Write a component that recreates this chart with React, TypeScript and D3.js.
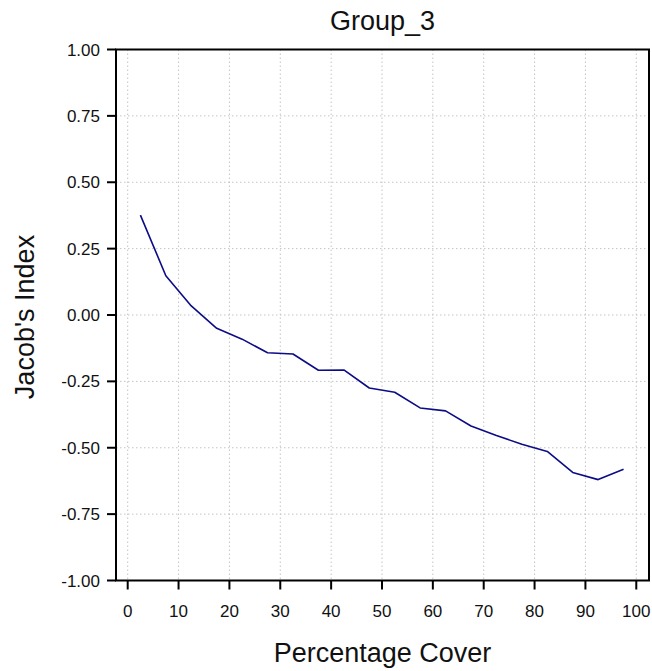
import React from "react";
import * as d3 from "d3";

const coverValues = [2.5, 7.5, 12.5, 17.5, 22.5, 27.5, 32.5, 37.5, 42.5, 47.5, 52.5, 57.5, 62.5, 67.5, 72.5, 77.5, 82.5, 87.5, 92.5, 97.5];
const jacobValues = [0.376, 0.148, 0.034, -0.05, -0.091, -0.142, -0.147, -0.208, -0.207, -0.275, -0.291, -0.35, -0.361, -0.418, -0.454, -0.487, -0.514, -0.593, -0.62, -0.581];
const xTicks = [0, 10, 20, 30, 40, 50, 60, 70, 80, 90, 100];
const yTicks = [1.0, 0.75, 0.5, 0.25, 0, -0.25, -0.5, -0.75, -1.0];
const title = "Group_3";
const xLabel = "Percentage Cover";
const yLabel = "Jacob's Index";

const W = 652;
const H = 671;
const left = 116;
const right = 649;
const top = 49.5;
const bottom = 580.5;
const font = "Liberation Sans, Arial, sans-serif";

export default function App() {
  const x = d3.scaleLinear().domain([-2.3, 102.5]).range([left, right]);
  const y = d3.scaleLinear().domain([-1, 1]).range([bottom, top]);
  const line = d3
    .line<number>()
    .x((_, i) => x(coverValues[i]))
    .y((d) => y(d));
  const path = line(jacobValues) || "";
  const tickLen = 9;
  const fmt = (t: number) => d3.format(".2f")(t).replace("\u2212", "-");
  return (
    <svg
      width={W}
      height={H}
      style={{ position: "absolute", left: 0, top: 0, background: "#fff" }}
      fontFamily={font}
    >
      <rect x={0} y={0} width={W} height={H} fill="#fff" />
      {xTicks.map((t) => (
        <line key={"gx" + t} x1={x(t)} x2={x(t)} y1={top} y2={bottom} stroke="#c4c4c4" strokeWidth={1} strokeDasharray="1.5,2.5" />
      ))}
      {yTicks.map((t) => (
        <line key={"gy" + t} x1={left} x2={right} y1={y(t)} y2={y(t)} stroke="#c4c4c4" strokeWidth={1} strokeDasharray="1.5,2.5" />
      ))}
      <path d={path} fill="none" stroke="#0c0c86" strokeWidth={1.6} strokeLinejoin="round" />
      <rect x={left} y={top} width={right - left} height={bottom - top} fill="none" stroke="#000" strokeWidth={2} />
      {xTicks.map((t) => (
        <g key={"xt" + t}>
          <line x1={x(t)} x2={x(t)} y1={bottom} y2={bottom + tickLen} stroke="#000" strokeWidth={2} />
          <text x={x(t)} y={617} textAnchor="middle" fontSize={17} fill="#111">
            {t}
          </text>
        </g>
      ))}
      {yTicks.map((t) => (
        <g key={"yt" + t}>
          <line x1={left - tickLen} x2={left} y1={y(t)} y2={y(t)} stroke="#000" strokeWidth={2} />
          <text x={100} y={y(t) + 6} textAnchor="end" fontSize={17} fill="#111">
            {fmt(t)}
          </text>
        </g>
      ))}
      <text x={(left + right) / 2} y={30} textAnchor="middle" fontSize={27} fill="#111">
        {title}
      </text>
      <text x={(left + right) / 2} y={662} textAnchor="middle" fontSize={27} fill="#111">
        {xLabel}
      </text>
      <text
        transform={`translate(34, ${(top + bottom) / 2 + 2}) rotate(-90)`}
        textAnchor="middle"
        fontSize={27}
        fill="#111"
      >
        {yLabel}
      </text>
    </svg>
  );
}
